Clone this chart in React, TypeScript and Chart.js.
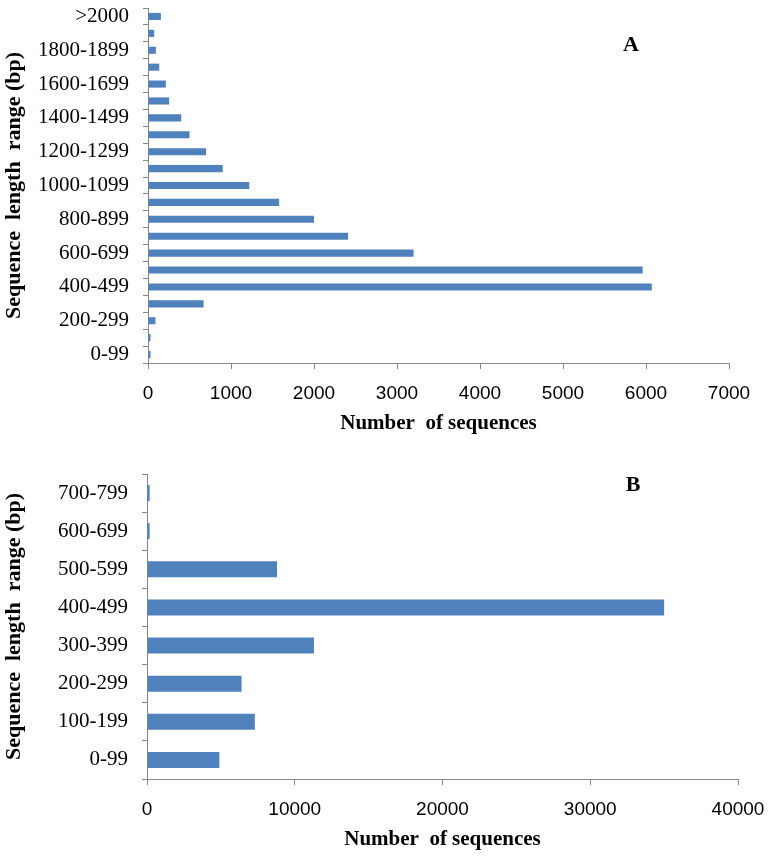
import React, { useEffect, useRef } from "react";
import { Chart, registerables } from "chart.js";

Chart.register(...registerables);

// ---- Panel A data ----
const rangesA = [
  "0-99", "100-199", "200-299", "300-399", "400-499", "500-599", "600-699",
  "700-799", "800-899", "900-999", "1000-1099", "1100-1199", "1200-1299",
  "1300-1399", "1400-1499", "1500-1599", "1600-1699", "1700-1799",
  "1800-1899", "1900-1999", ">2000",
];
const countsA = [
  30, 30, 90, 670, 6070, 5960, 3200, 2410, 2000, 1580, 1220, 900, 700, 500,
  400, 255, 215, 135, 95, 75, 155,
];
const xMaxA = 7000;
const xStepA = 1000;

// ---- Panel B data ----
const rangesB = [
  "0-99", "100-199", "200-299", "300-399", "400-499", "500-599", "600-699", "700-799",
];
const countsB = [4900, 7300, 6400, 11300, 35000, 8800, 180, 180];
const xMaxB = 40000;
const xStepB = 10000;

const yTitle = "Sequence  length  range (bp)";
const xTitle = "Number  of sequences";

const SERIF = "'Liberation Serif', 'Times New Roman', serif";
const SANS = "'Liberation Sans', Arial, sans-serif";
const BAR = "#4F81BD";
const AXIS = "#868686";

const letterPlugin = {
  id: "panelLetter",
  afterDraw(chart: any, _args: any, opts: any) {
    const { ctx } = chart;
    ctx.save();
    ctx.font = `bold 22px ${SERIF}`;
    ctx.fillStyle = "#000";
    ctx.textAlign = "center";
    ctx.textBaseline = "middle";
    ctx.fillText(opts.text, opts.x, opts.y);
    ctx.restore();
  },
};

type PanelProps = {
  labels: string[];
  values: number[];
  max: number;
  step: number;
  letter: string;
  letterX: number;
  letterY: number;
  height: number;
  top: number;
  padTop: number;
  padRight: number;
  xAxisHeight: number;
  yAxisWidth: number;
  everyOther: boolean;
  titlePadBottom: number;
};

function Panel(p: PanelProps) {
  const ref = useRef<HTMLCanvasElement | null>(null);
  useEffect(() => {
    if (!ref.current) return;
    const chart = new Chart(ref.current, {
      type: "bar",
      data: {
        labels: p.labels,
        datasets: [
          {
            data: p.values,
            backgroundColor: BAR,
            borderWidth: 0,
            barPercentage: 0.42,
            categoryPercentage: 1.0,
          },
        ],
      },
      options: {
        indexAxis: "y",
        responsive: false,
        animation: false,
        layout: { padding: { top: p.padTop, right: p.padRight, left: 0, bottom: 0 } },
        plugins: {
          legend: { display: false },
          tooltip: { enabled: false },
          panelLetter: { text: p.letter, x: p.letterX, y: p.letterY },
        } as any,
        scales: {
          x: {
            type: "linear",
            min: 0,
            max: p.max,
            afterFit: (s: any) => {
              s.height = p.xAxisHeight;
              s.paddingLeft = 0;
              s.paddingRight = 0;
            },
            ticks: {
              stepSize: p.step,
              color: "#000",
              padding: 13,
              font: { family: SANS, size: 19 },
              callback: (v: any) => String(v),
            },
            grid: {
              drawOnChartArea: false,
              drawTicks: true,
              tickLength: 6,
              color: AXIS,
            },
            border: { display: true, color: AXIS, width: 1 },
            title: {
              display: true,
              text: xTitle,
              color: "#000",
              font: { family: SERIF, size: 21, weight: "bold" },
              padding: { top: 0, bottom: p.titlePadBottom },
            },
          },
          y: {
            type: "category",
            reverse: true,
            afterFit: (s: any) => {
              s.width = p.yAxisWidth;
              s.paddingTop = 0;
              s.paddingBottom = 0;
            },
            ticks: {
              autoSkip: false,
              color: "#000",
              padding: 14,
              font: { family: SERIF, size: 21 },
              callback: (_v: any, i: number) =>
                p.everyOther && i % 2 === 1 ? "" : p.labels[i],
            },
            grid: {
              drawOnChartArea: false,
              drawTicks: true,
              tickLength: 5,
              color: AXIS,
              offset: true,
            },
            border: { display: true, color: AXIS, width: 1 },
            title: {
              display: true,
              text: yTitle,
              color: "#000",
              font: { family: SERIF, size: 22, weight: "bold" },
              padding: { top: 1, bottom: 0 },
            },
          },
        },
      } as any,
      plugins: [letterPlugin],
    });
    return () => chart.destroy();
  }, []);
  return (
    <canvas
      ref={ref}
      width={771}
      height={p.height}
      style={{ position: "absolute", left: 0, top: p.top, width: 771, height: p.height }}
    />
  );
}

export default function App() {
  return (
    <div style={{ position: "absolute", left: 0, top: 0, width: 771, height: 857, background: "#fff" }}>
      <Panel
        labels={rangesA}
        values={countsA}
        max={xMaxA}
        step={xStepA}
        letter="A"
        letterX={631}
        letterY={45}
        height={440}
        top={0}
        padTop={8}
        padRight={42}
        xAxisHeight={77}
        yAxisWidth={148}
        everyOther={true}
        titlePadBottom={4}
      />
      <Panel
        labels={rangesB}
        values={countsB}
        max={xMaxB}
        step={xStepB}
        letter="B"
        letterX={633}
        letterY={45}
        height={417}
        top={440}
        padTop={34}
        padRight={33}
        xAxisHeight={78}
        yAxisWidth={147}
        everyOther={false}
        titlePadBottom={5}
      />
    </div>
  );
}
